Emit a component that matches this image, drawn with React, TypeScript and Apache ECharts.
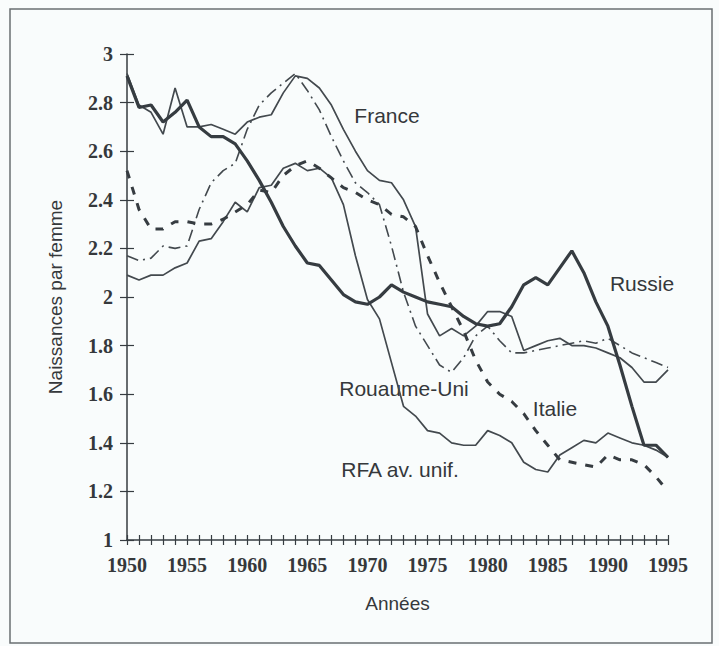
import React, { useEffect, useRef } from "react";
import * as echarts from "echarts";

const years = [
  1950, 1951, 1952, 1953, 1954, 1955, 1956, 1957, 1958, 1959,
  1960, 1961, 1962, 1963, 1964, 1965, 1966, 1967, 1968, 1969,
  1970, 1971, 1972, 1973, 1974, 1975, 1976, 1977, 1978, 1979,
  1980, 1981, 1982, 1983, 1984, 1985, 1986, 1987, 1988, 1989,
  1990, 1991, 1992, 1993, 1994, 1995,
];

const france = [
  2.92, 2.79, 2.76, 2.67, 2.86, 2.7, 2.7, 2.71, 2.69, 2.67,
  2.72, 2.74, 2.75, 2.84, 2.91, 2.9, 2.86, 2.79, 2.69, 2.6,
  2.52, 2.48, 2.47, 2.4, 2.29, 1.93, 1.84, 1.87, 1.84, 1.88,
  1.94, 1.94, 1.92, 1.78, 1.8, 1.82, 1.83, 1.8, 1.8, 1.79,
  1.77, 1.75, 1.71, 1.65, 1.65, 1.7,
];

const russie = [
  2.91, 2.78, 2.79, 2.72, 2.76, 2.81, 2.7, 2.66, 2.66, 2.63,
  2.56, 2.48, 2.39, 2.29, 2.21, 2.14, 2.13, 2.07, 2.01, 1.98,
  1.97, 2.0, 2.05, 2.02, 2.0, 1.98, 1.97, 1.96, 1.92, 1.89,
  1.88, 1.89, 1.96, 2.05, 2.08, 2.05, 2.12, 2.19, 2.1, 1.98,
  1.88, 1.72, 1.55, 1.39, 1.39, 1.34,
];

const royaumeUni = [
  2.17, 2.15, 2.16, 2.21, 2.2, 2.21, 2.36, 2.47, 2.52, 2.55,
  2.69, 2.79, 2.84, 2.88, 2.92, 2.85, 2.77, 2.66, 2.56, 2.47,
  2.43, 2.38, 2.21, 2.02, 1.88, 1.8, 1.72, 1.69, 1.75, 1.84,
  1.88, 1.82, 1.77, 1.77, 1.78, 1.79, 1.8, 1.81, 1.82, 1.81,
  1.83, 1.8, 1.77, 1.75, 1.73, 1.71,
];

const italie = [
  2.52, 2.36, 2.28, 2.28, 2.31, 2.31, 2.3, 2.3, 2.32, 2.35,
  2.38, 2.44, 2.43, 2.5, 2.54, 2.56, 2.53, 2.49, 2.45, 2.43,
  2.4, 2.38, 2.34, 2.33, 2.29, 2.17, 2.06, 1.96, 1.86, 1.74,
  1.65, 1.6, 1.57, 1.52, 1.45, 1.39, 1.33, 1.32, 1.31, 1.3,
  1.35, 1.33, 1.33, 1.31, 1.26, 1.2,
];

const rfa = [
  2.09, 2.07, 2.09, 2.09, 2.12, 2.14, 2.23, 2.24, 2.31, 2.39,
  2.35, 2.45, 2.46, 2.53, 2.55, 2.52, 2.53, 2.49, 2.38, 2.17,
  1.99, 1.91, 1.73, 1.55, 1.51, 1.45, 1.44, 1.4, 1.39, 1.39,
  1.45, 1.43, 1.4, 1.32, 1.29, 1.28, 1.35, 1.38, 1.41, 1.4,
  1.44, 1.42, 1.4, 1.39, 1.37, 1.34,
];

const seriesLabels = [
  { text: "France", x: 387, y: 115 },
  { text: "Russie", x: 642, y: 283 },
  { text: "Rouaume-Uni", x: 404, y: 388 },
  { text: "Italie", x: 555, y: 408 },
  { text: "RFA av. unif.", x: 400, y: 469 },
];

const pairs = (vals: number[]) => years.map((y, i) => [y, vals[i]]);

export default function App() {
  const ref = useRef<HTMLDivElement>(null);

  useEffect(() => {
    document.body.style.margin = "0";
    if (!ref.current) return;
    const chart = echarts.init(ref.current, null, { renderer: "svg" });
    const lineColor = "#363c41";
    const thinColor = "#43494e";
    const textColor = "#35383b";
    const serif = "'Liberation Serif', 'DejaVu Serif', serif";
    const sans = "'Liberation Sans', Arial, sans-serif";

    const baseX = {
      type: "value" as const,
      min: 1950,
      max: 1995,
      interval: 5,
      gridIndex: 0,
      position: "bottom" as const,
      splitLine: { show: false },
    };
    const baseY = {
      type: "value" as const,
      min: 1,
      max: 3,
      interval: 0.2,
      gridIndex: 0,
      position: "left" as const,
      splitLine: { show: false },
    };

    chart.setOption({
      animation: false,
      backgroundColor: "#f9fcfc",
      grid: { left: 127, top: 54, right: 51, bottom: 106, containLabel: false },
      xAxis: [
        {
          ...baseX,
          name: "Années",
          nameLocation: "middle",
          nameGap: 54,
          nameTextStyle: { fontFamily: sans, fontSize: 19, color: textColor },
          axisLine: { show: true, lineStyle: { color: lineColor, width: 1.5 } },
          axisTick: { show: true, length: 5, lineStyle: { color: lineColor, width: 1.2 } },
          minorTick: { show: true, splitNumber: 5, length: 5, lineStyle: { color: lineColor, width: 1.2 } },
          axisLabel: {
            fontFamily: serif,
            fontWeight: "bold",
            fontSize: 20,
            color: textColor,
            margin: 15,
            formatter: (v: number) => String(v),
          },
        },
        {
          ...baseX,
          axisLine: { show: false },
          axisLabel: { show: false },
          axisTick: { show: true, inside: true, length: 5, lineStyle: { color: lineColor, width: 1.2 } },
          minorTick: { show: true, splitNumber: 5, length: 5, lineStyle: { color: lineColor, width: 1.2 } },
        },
      ],
      yAxis: [
        {
          ...baseY,
          name: "Naissances par femme",
          nameLocation: "middle",
          nameGap: 62,
          nameRotate: 90,
          nameTextStyle: { fontFamily: sans, fontSize: 19, color: textColor },
          axisLine: { show: true, lineStyle: { color: lineColor, width: 1.5 } },
          axisTick: { show: true, length: 7, lineStyle: { color: lineColor, width: 1.2 } },
          axisLabel: {
            fontFamily: serif,
            fontWeight: "bold",
            fontSize: 20,
            color: textColor,
            margin: 14,
          },
        },
        {
          ...baseY,
          axisLine: { show: false },
          axisLabel: { show: false },
          axisTick: { show: true, inside: true, length: 7, lineStyle: { color: lineColor, width: 1.2 } },
        },
      ],
      series: [
        {
          name: "France",
          type: "line",
          data: pairs(france),
          symbol: "none",
          lineStyle: { color: thinColor, width: 1.7 },
        },
        {
          name: "Rouaume-Uni",
          type: "line",
          data: pairs(royaumeUni),
          symbol: "none",
          lineStyle: { color: thinColor, width: 1.6, type: [12, 5, 2, 5] },
        },
        {
          name: "RFA av. unif.",
          type: "line",
          data: pairs(rfa),
          symbol: "none",
          lineStyle: { color: thinColor, width: 1.7 },
        },
        {
          name: "Italie",
          type: "line",
          data: pairs(italie),
          symbol: "none",
          lineStyle: { color: lineColor, width: 3, type: [8, 9] },
        },
        {
          name: "Russie",
          type: "line",
          data: pairs(russie),
          symbol: "none",
          lineStyle: { color: lineColor, width: 3.2 },
        },
      ],
      graphic: [
        {
          type: "rect",
          shape: { x: 10, y: 9, width: 702, height: 634 },
          style: { fill: "none", stroke: "#6a6f72", lineWidth: 1.5 },
          silent: true,
        },
        ...seriesLabels.map((l) => ({
          type: "text",
          x: l.x,
          y: l.y,
          style: {
            text: l.text,
            fontFamily: sans,
            fontSize: 21,
            fill: textColor,
            align: "center",
            verticalAlign: "middle",
          },
          silent: true,
        })),
      ],
    });

    return () => chart.dispose();
  }, []);

  return <div ref={ref} style={{ width: 719, height: 646 }} />;
}
